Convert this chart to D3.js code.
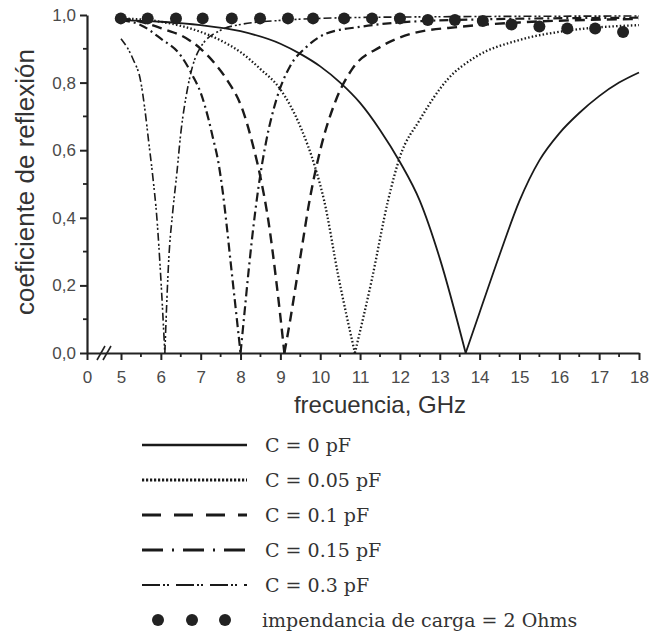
<!DOCTYPE html>
<html>
<head>
<meta charset="utf-8">
<script src="https://cdn.jsdelivr.net/npm/d3@7"></script>
<style>
  body { margin: 0; background: #fff; }
  svg { display: block; }
</style>
</head>
<body>
<svg width="652" height="634"></svg>
<script>
const width = 652
const height = 634

// curves: [frecuencia GHz, coeficiente]
const c0 = [[5, 0.985], [6, 0.98], [7, 0.97], [8, 0.952], [9, 0.915], [9.5, 0.885], [10, 0.848], [10.5, 0.80], [11, 0.74],
    [11.5, 0.66], [12, 0.565], [12.5, 0.45], [13, 0.28], [13.65, 0], [14, 0.12], [14.5, 0.29], [15, 0.45], [15.5, 0.57],
    [16, 0.65], [16.5, 0.71], [17, 0.76], [17.5, 0.80], [18, 0.83]]
const c005 = [[5, 0.99], [6, 0.98], [7, 0.95], [7.5, 0.925], [8, 0.89], [8.5, 0.84], [9, 0.78], [9.5, 0.67], [9.87, 0.55],
    [10.1, 0.45], [10.45, 0.23], [10.87, 0], [11.3, 0.22], [11.7, 0.45], [12, 0.58], [12.5, 0.69], [13.2, 0.81],
    [13.9, 0.876], [15, 0.926], [16.3, 0.955], [18, 0.97]]
const c01 = [[5, 0.99], [5.5, 0.98], [6.15, 0.955], [6.5, 0.94], [7, 0.90], [7.4, 0.85], [7.65, 0.81], [8.05, 0.72],
    [8.3, 0.62], [8.5, 0.52], [8.7, 0.39], [8.9, 0.21], [9.1, 0], [9.25, 0.1], [9.4, 0.21], [9.55, 0.32], [9.7, 0.43],
    [10, 0.6], [10.4, 0.75], [10.8, 0.84], [11.5, 0.905], [12.3, 0.945], [13.5, 0.965], [15, 0.978], [18, 0.988]]
const c015 = [[5, 0.985], [5.5, 0.97], [6, 0.93], [6.5, 0.88], [6.8, 0.82], [7, 0.77], [7.2, 0.69], [7.3, 0.64],
    [7.45, 0.56], [7.55, 0.48], [7.65, 0.38], [7.75, 0.27], [7.88, 0.13], [8, 0], [8.1, 0.12], [8.2, 0.24], [8.3, 0.35],
    [8.45, 0.49], [8.65, 0.63], [8.9, 0.75], [9.25, 0.85], [9.65, 0.905], [10.15, 0.945], [11, 0.965], [12, 0.978],
    [14, 0.987], [18, 0.992]]
const c03 = [[5, 0.93], [5.3, 0.87], [5.5, 0.80], [5.6, 0.72], [5.7, 0.62], [5.8, 0.52], [5.9, 0.40], [6, 0.22], [6.1, 0],
    [6.2, 0.28], [6.3, 0.42], [6.4, 0.53], [6.5, 0.65], [6.65, 0.77], [6.8, 0.85], [7, 0.905], [7.5, 0.955], [8, 0.972],
    [9, 0.984], [10, 0.99], [12, 0.994], [18, 0.997]]
const carga = [[4.97, 0.99], [5.67, 0.99], [6.38, 0.99], [7.05, 0.99], [7.78, 0.99], [8.49, 0.99], [9.19, 0.99],
    [9.82, 0.99], [10.6, 0.99], [11.3, 0.99], [12, 0.99], [12.7, 0.985], [13.38, 0.985], [14.08, 0.982], [14.8, 0.972],
    [15.5, 0.966], [16.2, 0.96], [16.9, 0.96], [17.6, 0.95]]

const seriesNames = ['C = 0 pF', 'C = 0.05 pF', 'C = 0.1 pF', 'C = 0.15 pF', 'C = 0.3 pF']
const cargaName = 'impendancia de carga = 2 Ohms'

const xTicks = [0, 5, 6, 7, 8, 9, 10, 11, 12, 13, 14, 15, 16, 17, 18]
const xMinor = [5.5, 6.5, 7.5, 8.5, 9.5, 10.5, 11.5, 12.5, 13.5, 14.5, 15.5, 16.5, 17.5]
const yTicks = [0, 0.2, 0.4, 0.6, 0.8, 1.0]
const yMinor = [0.1, 0.3, 0.5, 0.7, 0.9]

const xTitle = 'frecuencia, GHz'
const yTitle = 'coeficiente de reflexión'

// line styles (chart, legend)
const styles = [
    { width: 1.8, dash: null, legendDash: null },
    { width: 2.3, dash: '1.5,2.2', legendDash: '2.2,1.8' },
    { width: 2.4, dash: '10,6', legendDash: '19,13' },
    { width: 2.2, dash: '9,4,2,4', legendDash: '21,9,2,9' },
    { width: 1.6, dash: '8,3,2,2,2,3', legendDash: '18,3,2,2,2,7' }
]

const svg = d3.select('svg')
svg.append('rect').attr('width', width).attr('height', height).attr('fill', '#fff')

const x = d3.scaleLinear()
    .domain([0, 5, 18])
    .range([87, 121, 639])

const y = d3.scaleLinear()
    .domain([0, 1])
    .range([353, 15])

const axisColor = '#222'
const labelColor = '#4a4a4a'
const sans = '"Liberation Sans", Arial, sans-serif'

const xAxis = g => g
    .attr('transform', `translate(0,${y(0)})`)
    .call(d3.axisBottom(x).tickValues(xTicks).tickSize(7).tickSizeOuter(0).tickPadding(11).tickFormat(d3.format('d')))
    .call(g => g.select('.domain').attr('stroke', axisColor).attr('stroke-width', 2.2))
    .call(g => g.selectAll('.tick line').attr('stroke', axisColor).attr('stroke-width', 2))
    .call(g => g.selectAll('.tick text').attr('fill', labelColor).attr('font-size', 17).attr('font-family', sans))

const yAxis = g => g
    .attr('transform', `translate(${x(0)},0)`)
    .call(d3.axisLeft(y).tickValues(yTicks).tickSize(7).tickSizeOuter(0).tickPadding(4)
        .tickFormat(d => d3.format('.1f')(d).replace('.', ',')))
    .call(g => g.select('.domain').attr('stroke', axisColor).attr('stroke-width', 2.2))
    .call(g => g.selectAll('.tick line').attr('stroke', axisColor).attr('stroke-width', 2))
    .call(g => g.selectAll('.tick text').attr('fill', labelColor).attr('font-size', 17).attr('font-family', sans))

svg.append('g').call(xAxis)
svg.append('g').call(yAxis)

// minor ticks
svg.append('g')
    .selectAll('line')
    .data(xMinor)
    .join('line')
    .attr('x1', d => x(d)).attr('x2', d => x(d))
    .attr('y1', y(0)).attr('y2', y(0) + 4)
    .attr('stroke', axisColor).attr('stroke-width', 1.8)

svg.append('g')
    .selectAll('line')
    .data(yMinor)
    .join('line')
    .attr('x1', x(0) - 4).attr('x2', x(0))
    .attr('y1', d => y(d)).attr('y2', d => y(d))
    .attr('stroke', axisColor).attr('stroke-width', 1.8)

// axis break //
const bx = (x(0) + x(5)) / 2
svg.append('g')
    .selectAll('line')
    .data([-3, 3])
    .join('line')
    .attr('x1', d => bx + d - 4).attr('x2', d => bx + d + 4)
    .attr('y1', y(0) + 7).attr('y2', y(0) - 7)
    .attr('stroke', axisColor).attr('stroke-width', 1.6)

// titles
svg.append('text')
    .attr('x', (x(5) + x(18)) / 2)
    .attr('y', 413)
    .attr('text-anchor', 'middle')
    .attr('font-family', sans)
    .attr('font-size', 24)
    .attr('fill', '#333')
    .text(xTitle)

svg.append('text')
    .attr('transform', `translate(34,${(y(0) + y(1)) / 2 - 2}) rotate(-90)`)
    .attr('text-anchor', 'middle')
    .attr('font-family', sans)
    .attr('font-size', 26)
    .attr('fill', '#333')
    .text(yTitle)

// curves, each split at its null so the bottom stays a sharp V
const line = d3.line()
    .x(d => x(d[0]))
    .y(d => y(d[1]))
    .curve(d3.curveMonotoneX)

const allSeries = [c0, c005, c01, c015, c03]
const branches = []
allSeries.forEach((s, i) => {
    const k = d3.minIndex(s, d => d[1])
    branches.push({ pts: s.slice(0, k + 1), i: i })
    branches.push({ pts: s.slice(k), i: i })
})

svg.append('g')
    .selectAll('path')
    .data(branches)
    .join('path')
    .attr('d', d => line(d.pts))
    .attr('fill', 'none')
    .attr('stroke', '#1a1a1a')
    .attr('stroke-width', d => styles[d.i].width)
    .attr('stroke-dasharray', d => styles[d.i].dash)

svg.append('g')
    .selectAll('circle')
    .data(carga)
    .join('circle')
    .attr('cx', d => x(d[0]))
    .attr('cy', d => y(d[1]))
    .attr('r', 6)
    .attr('fill', '#222')

// legend
const legend = svg.append('g')
const rowY = i => 445 + i * 35

legend.selectAll('line')
    .data(seriesNames)
    .join('line')
    .attr('x1', 142).attr('x2', 247)
    .attr('y1', (d, i) => rowY(i)).attr('y2', (d, i) => rowY(i))
    .attr('stroke', '#1a1a1a')
    .attr('stroke-width', (d, i) => styles[i].width + 0.6)
    .attr('stroke-dasharray', (d, i) => styles[i].legendDash)

legend.selectAll('circle')
    .data([158, 192, 225])
    .join('circle')
    .attr('cx', d => d)
    .attr('cy', rowY(5))
    .attr('r', 6)
    .attr('fill', '#222')

legend.selectAll('text')
    .data(seriesNames.concat([cargaName]))
    .join('text')
    .attr('x', (d, i) => i == 5 ? 262 : 265)
    .attr('y', (d, i) => rowY(i) + 7)
    .attr('font-family', '"DejaVu Serif", serif')
    .attr('font-size', 19)
    .attr('fill', '#333')
    .text(d => d)
</script>
</body>
</html>
